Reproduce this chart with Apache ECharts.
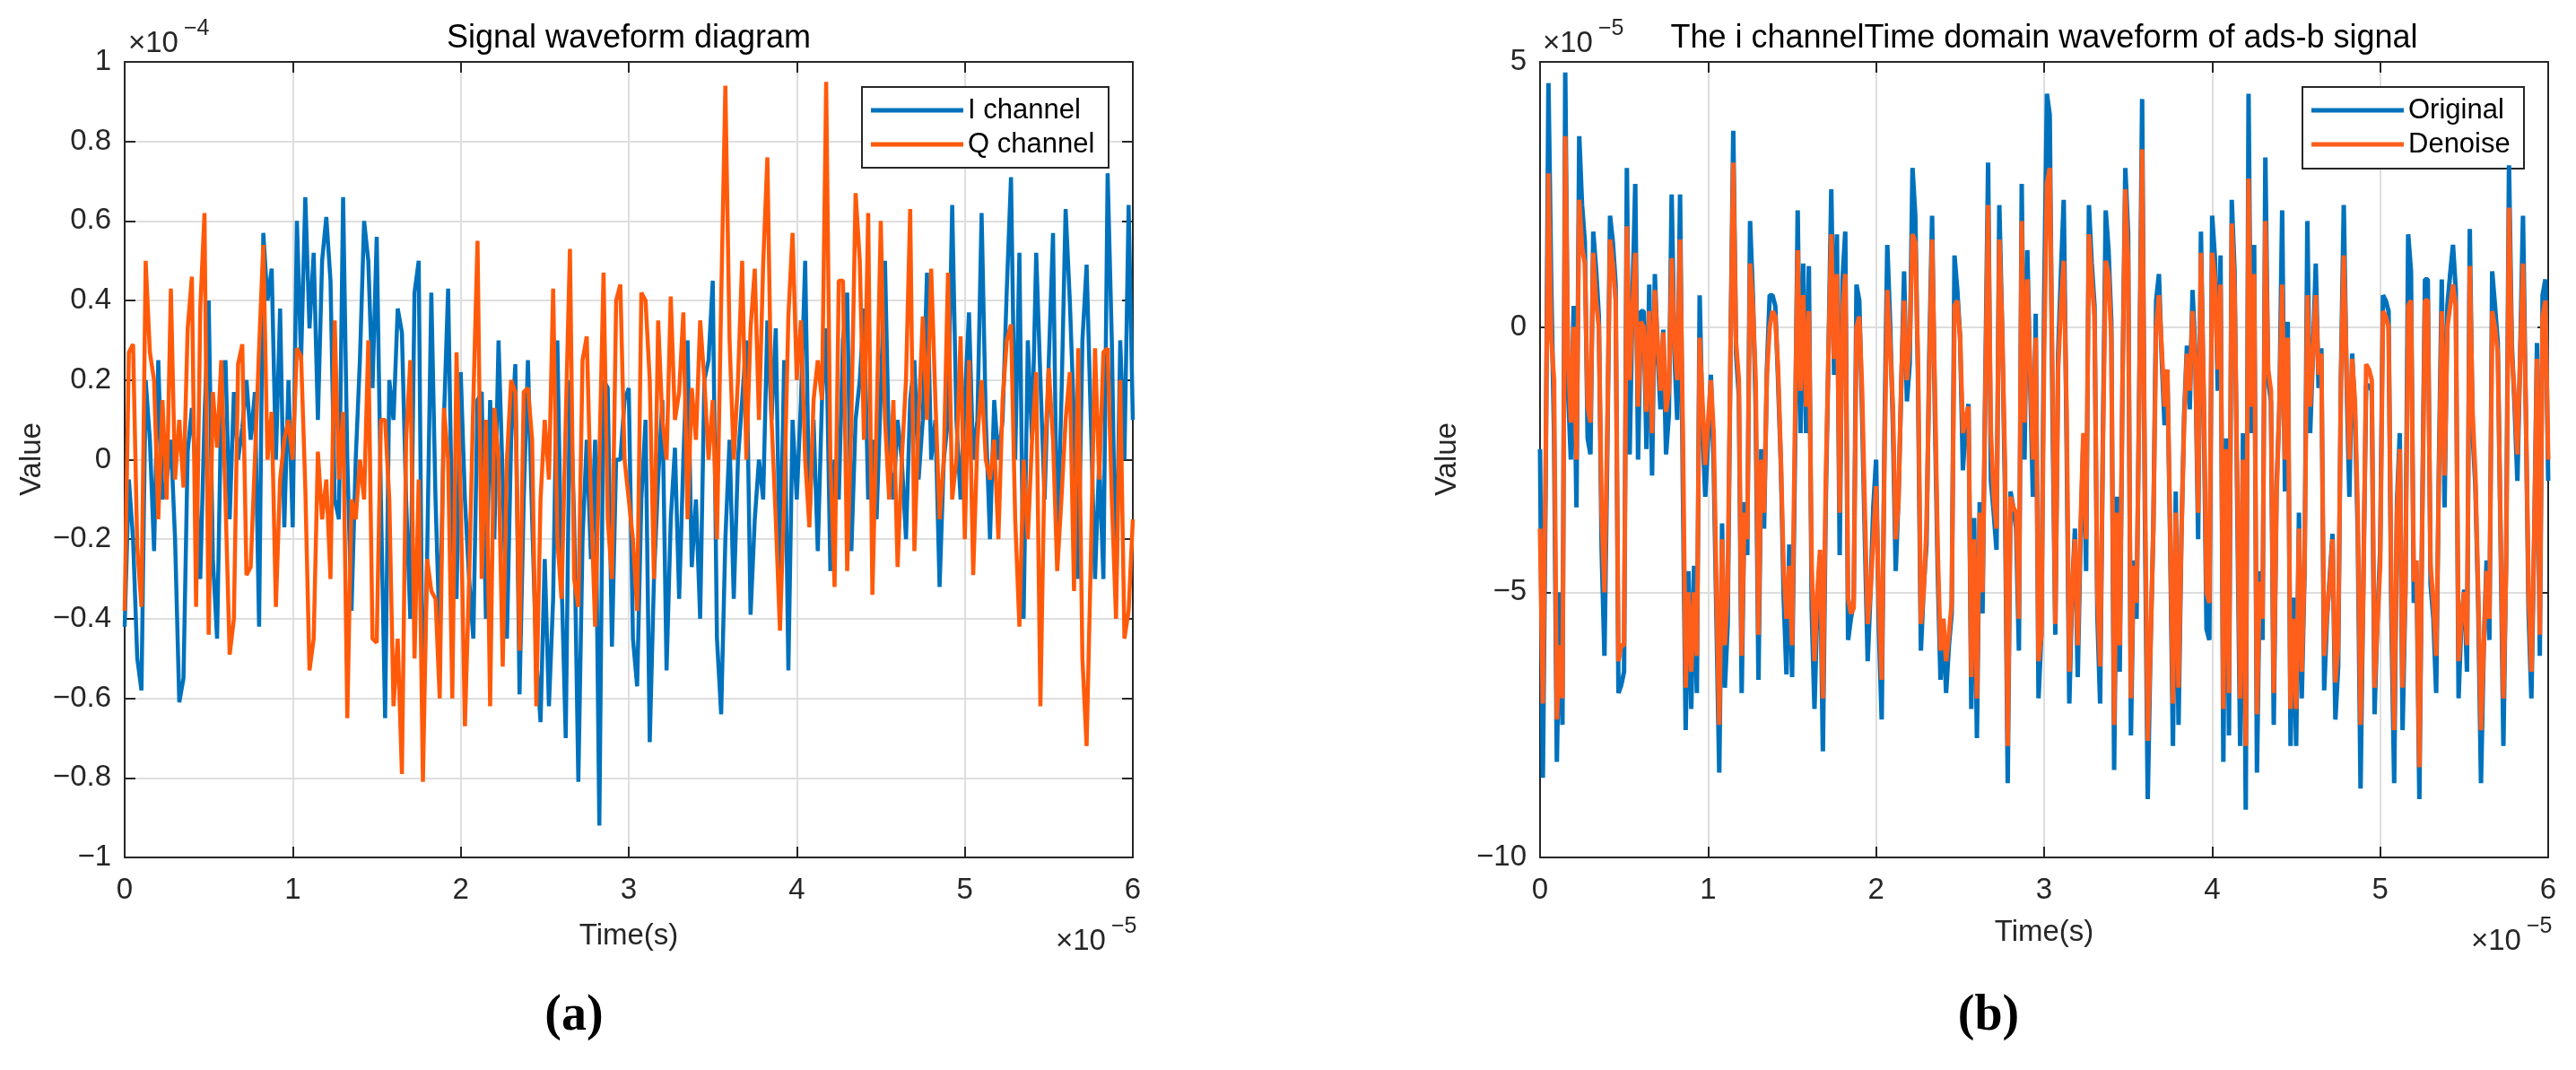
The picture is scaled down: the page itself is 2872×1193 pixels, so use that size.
<!DOCTYPE html>
<html>
<head>
<meta charset="utf-8">
<title>Signal waveform</title>
<script src="https://cdn.jsdelivr.net/npm/echarts/dist/echarts.min.js"></script>
<style>
html,body{margin:0;padding:0;background:#fff;}
#main{width:2872px;height:1193px;}
</style>
</head>
<body>
<div id="main"></div>
<script>
// time axis is in units of 1e-5 s, values are in units of the axis multiplier
var leftStep = 0.025;
var rightStep = 1 / 60;
var xTicks = { min: 0, max: 6, interval: 1 };
var leftYTicks = { min: -1, max: 1, interval: 0.2 };
var rightYTicks = { min: -10, max: 5, interval: 5 };

// (a) I channel, x1e-4
var iChannel = [
 -0.42,-0.05,-0.2,-0.5,-0.58,0.2,0.05,-0.23,0.25,-0.1,
 -0.05,0.05,-0.2,-0.61,-0.55,0.02,0.13,-0.05,-0.3,0.1,
 0.4,-0.25,-0.45,0.15,0.25,-0.15,0.17,0.0,0.08,0.2,
 0.05,0.17,-0.42,0.57,0.4,0.48,0.0,0.38,-0.17,0.2,
 -0.17,0.6,0.25,0.66,0.33,0.52,0.1,0.5,0.61,0.45,
 -0.1,-0.15,0.66,0.0,-0.38,0.0,0.25,0.6,0.5,0.18,
 0.56,-0.1,-0.65,0.2,0.1,0.38,0.32,-0.1,-0.4,0.42,
 0.5,-0.69,-0.25,0.42,-0.1,-0.45,0.1,0.43,-0.2,-0.35,
 0.22,-0.1,-0.3,-0.45,0.15,0.17,-0.4,0.15,-0.2,0.3,
 -0.05,-0.45,0.05,0.24,-0.59,-0.1,0.25,-0.15,-0.5,-0.66,
 -0.25,-0.62,-0.35,0.3,-0.3,-0.7,0.2,-0.15,-0.81,-0.2,
 0.05,-0.25,0.05,-0.92,0.2,0.18,-0.47,0.0,0.0,0.15,
 0.18,-0.45,-0.57,-0.1,0.1,-0.71,-0.3,-0.05,0.15,-0.53,
 -0.15,0.03,-0.35,0.0,0.3,-0.27,-0.1,-0.4,0.2,0.25,
 0.45,-0.45,-0.64,-0.2,0.05,-0.35,0.0,0.15,0.3,-0.39,
 -0.15,0.0,-0.1,0.35,0.1,0.33,-0.3,0.25,-0.53,0.1,
 -0.1,0.15,0.5,-0.15,0.1,-0.23,0.15,0.33,-0.28,0.0,
 -0.1,0.3,0.42,-0.23,0.1,0.2,0.38,-0.1,0.05,-0.15,
 0.17,0.5,0.0,-0.1,0.1,0.0,-0.2,0.15,0.25,-0.05,
 0.1,0.47,0.0,0.1,-0.32,0.0,0.1,0.64,0.1,-0.1,
 0.15,0.37,0.0,0.1,0.62,0.1,-0.2,0.15,0.0,0.1,
 0.43,0.71,0.0,0.52,-0.4,0.3,0.05,0.52,0.2,-0.1,
 0.25,0.57,-0.23,0.15,0.63,0.4,0.1,-0.3,0.3,0.49,
 0.1,-0.3,0.0,-0.3,0.72,0.3,-0.35,0.3,0.0,0.64,
 0.1
];

// (a) Q channel, x1e-4
var qChannel = [
 -0.38,0.27,0.29,-0.22,-0.37,0.5,0.27,0.2,-0.15,0.15,
 -0.1,0.43,-0.05,0.1,-0.07,0.33,0.46,-0.37,0.38,0.62,
 -0.44,0.17,0.03,0.25,-0.1,-0.49,-0.4,0.24,0.29,-0.29,
 -0.27,0.0,0.28,0.54,0.0,0.12,-0.37,-0.05,0.05,0.1,
 0.0,0.28,0.26,-0.07,-0.53,-0.45,0.02,-0.15,-0.05,-0.3,
 0.35,-0.05,0.12,-0.65,-0.1,-0.15,0.0,-0.1,0.3,-0.45,
 -0.46,0.1,0.1,-0.1,-0.62,-0.45,-0.79,0.05,0.25,-0.5,
 -0.05,-0.81,-0.25,-0.33,-0.35,-0.6,0.13,0.0,-0.6,0.27,
 -0.1,-0.67,-0.3,0.15,0.55,-0.3,0.1,-0.62,0.13,0.0,
 -0.52,0.0,0.2,0.17,-0.48,0.17,0.18,0.05,-0.62,-0.1,
 0.1,-0.05,0.43,-0.2,-0.35,0.1,0.53,-0.3,-0.37,0.25,
 0.31,-0.1,-0.42,0.0,0.47,-0.15,-0.3,0.4,0.44,0.0,
 -0.1,-0.2,-0.38,0.42,0.4,0.2,-0.3,0.35,0.1,0.0,
 0.41,0.1,0.17,0.37,-0.15,0.18,0.05,0.35,0.2,0.0,
 0.15,-0.2,0.4,0.94,0.3,0.0,0.2,0.5,0.0,0.33,
 0.48,0.1,0.49,0.76,0.1,-0.15,-0.43,-0.1,0.36,0.57,
 0.2,0.35,0.0,-0.17,0.15,0.25,0.15,0.95,0.0,-0.32,
 0.45,0.45,-0.28,0.1,0.67,0.5,0.05,0.62,-0.34,0.1,
 0.6,0.1,-0.1,0.15,-0.27,0.0,0.2,0.63,-0.23,0.1,
 0.36,0.1,0.48,0.15,-0.15,0.0,0.47,-0.1,0.0,0.31,
 -0.2,0.25,-0.29,0.05,0.2,0.0,-0.05,0.05,-0.2,0.15,
 0.3,0.34,-0.15,-0.42,0.0,-0.2,0.05,0.22,-0.62,0.0,
 0.23,0.05,-0.28,-0.1,0.1,0.22,-0.33,0.28,-0.5,-0.72,
 -0.25,0.28,-0.05,0.27,0.28,-0.1,-0.4,0.2,-0.45,-0.38,
 -0.15
];

// (b) original, x1e-5
var original = [
 -2.3,-8.5,-3.0,4.6,0.8,-2.0,-8.2,-5.0,-7.5,4.8,
 -1.2,-2.5,0.4,-3.4,3.6,2.3,1.6,-2.1,-2.4,1.8,
 1.1,0.2,-4.2,-6.2,-2.4,2.1,1.6,0.8,-6.9,-6.75,
 -6.5,3.0,-2.4,0.5,2.7,-2.5,0.3,0.3,-2.3,0.8,
 -2.8,1.0,-0.5,-1.55,-0.05,-2.4,-1.65,2.5,-0.5,-1.75,
 2.5,-3.0,-7.6,-4.6,-7.2,-4.5,-6.9,0.6,-1.9,-3.2,
 -2.1,-0.9,-2.6,-5.5,-8.4,-3.7,-6.8,-5.6,-0.5,3.7,
 -0.5,-1.3,-6.9,-3.3,-4.3,2.0,0.6,-1.5,-6.65,-2.3,
 -3.8,-0.8,0.6,0.6,0.4,-1.0,-2.6,-5.1,-6.55,-4.1,
 -6.6,-2.6,2.2,-2.0,1.2,-2.0,1.15,-5.3,-7.2,-5.2,
 -4.3,-8.0,-3.4,-0.5,2.6,-0.9,1.75,-4.3,0.9,1.8,
 -5.9,-5.5,-5.2,0.8,0.5,-1.65,-4.0,-6.3,-5.0,-3.4,
 -2.5,-5.7,-7.4,-2.0,1.55,0.1,-1.85,-4.6,-3.2,-1.1,
 1.05,-1.4,-0.7,3.0,2.1,-1.1,-6.1,-4.9,-4.1,-0.5,
 2.1,-1.65,-4.6,-6.65,-5.5,-6.9,-6.0,-5.4,1.35,0.7,
 -0.2,-2.7,-1.8,-1.45,-7.2,-3.6,-7.75,-3.3,-5.4,-1.0,
 3.1,-2.9,-3.5,-4.2,2.3,0.0,-3.0,-8.6,-3.1,-3.4,
 -3.8,-6.1,2.7,-2.5,1.45,-1.0,-3.2,0.25,-7.0,-5.8,
 0.5,4.4,4.0,-1.65,-5.8,-0.5,1.0,2.4,-2.0,-7.1,
 -5.0,-3.8,-6.6,-4.0,-2.1,-4.6,2.3,1.2,0.4,-5.4,
 -7.1,-2.0,2.2,1.45,0.1,-8.35,-3.2,-6.5,-1.0,3.0,
 1.75,-7.7,-4.4,-5.5,-1.0,4.3,-3.6,-8.9,-6.0,-3.8,
 0.5,1.0,-0.6,-1.85,-0.8,-4.0,-7.9,-3.1,-7.5,-4.0,
 -1.65,-0.35,-1.55,0.7,-0.5,-4.0,1.8,-1.5,-5.7,-5.9,
 2.1,1.3,-1.2,1.35,-8.2,-2.1,-7.7,2.4,1.05,-3.5,
 -7.9,-2.0,-9.1,4.4,-2.0,1.55,-8.4,-4.6,-5.9,3.2,
 -1.0,-1.4,-7.5,-3.0,-1.55,2.2,-3.1,0.1,-7.9,-5.1,
 -7.9,-3.5,-7.0,-4.6,2.0,-2.0,-0.5,1.2,-1.15,-0.4,
 -6.85,-5.5,-4.7,-3.9,-7.4,-6.4,-0.9,2.3,-1.0,-3.2,
 -0.5,-1.65,-3.9,-8.7,-4.7,-1.1,-1.1,-1.2,-7.3,-5.5,
 -4.2,0.6,0.5,0.3,-5.5,-8.6,-3.3,-2.0,-7.6,-5.0,
 1.75,1.05,-5.2,-4.6,-8.9,-3.6,0.9,0.9,-4.85,-5.5,
 -6.9,-2.5,0.9,-3.4,0.4,1.0,1.55,0.7,-7.0,-5.5,
 -4.95,-6.5,1.85,-2.0,-3.0,-5.2,-8.6,-6.0,-4.4,-5.9,
 1.05,0.4,-0.3,-4.0,-7.9,-4.2,3.05,-0.3,-1.5,-2.9,
 -0.5,2.1,-1.5,-5.4,-7.0,-4.0,-0.3,-6.2,0.6,0.9,
 -2.9
];

// (b) denoised, x1e-5
var denoise = [
 -3.8,-7.1,-2.6,2.9,-0.2,-1.0,-7.4,-6.0,-7.0,3.6,
 -0.5,-1.8,0.0,-2.5,2.4,1.5,1.2,-1.5,-1.8,1.4,
 0.5,0.0,-3.5,-5.0,-2.0,1.65,1.2,0.5,-6.3,-6.0,
 -6.0,1.9,-1.0,0.3,1.4,-1.5,0.1,0.0,-1.6,0.3,
 -2.0,0.7,-0.3,-1.2,-0.1,-1.6,-1.2,1.3,-0.3,-1.0,
 1.65,-2.0,-6.8,-5.0,-6.5,-5.0,-6.2,-0.2,-1.4,-2.6,
 -1.8,-1.0,-2.0,-5.0,-7.5,-4.0,-6.0,-5.0,-0.5,3.1,
 -0.3,-1.0,-6.2,-3.5,-4.0,1.2,0.4,-1.0,-5.8,-2.5,
 -3.5,-0.9,0.0,0.3,0.2,-0.8,-2.5,-4.6,-5.5,-4.5,
 -6.0,-2.0,1.45,-1.2,0.6,-1.5,0.3,-4.5,-6.3,-5.0,
 -4.2,-7.0,-3.0,-0.5,1.75,-0.6,1.0,-3.5,0.3,1.0,
 -5.1,-5.4,-5.3,0.0,0.2,-1.2,-3.5,-5.6,-5.0,-4.0,
 -3.0,-5.2,-6.65,-2.5,0.7,-0.3,-1.5,-4.0,-3.3,-1.0,
 0.5,-1.0,-0.3,1.75,1.6,-0.8,-5.6,-5.0,-3.8,-0.8,
 1.65,-1.2,-4.2,-6.1,-5.5,-6.3,-5.8,-5.2,0.4,0.5,
 -0.2,-2.0,-1.7,-1.5,-6.6,-4.0,-7.0,-3.5,-5.0,-1.3,
 2.3,-2.0,-3.2,-3.8,1.65,0.0,-2.5,-7.9,-3.2,-3.4,
 -3.5,-5.5,2.0,-1.8,0.9,-0.8,-2.5,-0.2,-6.3,-5.8,
 -0.5,2.7,3.0,-1.0,-5.6,-0.8,0.4,1.25,-1.5,-6.5,
 -5.0,-4.0,-6.0,-3.8,-2.0,-4.0,1.75,0.9,0.2,-5.0,
 -6.4,-2.2,1.25,1.0,-0.2,-7.5,-3.5,-6.0,-1.0,2.6,
 1.2,-7.0,-4.5,-5.2,-1.2,3.35,-3.0,-7.8,-6.0,-3.8,
 0.0,0.6,-0.4,-1.5,-0.8,-3.8,-7.1,-3.5,-6.8,-4.0,
 -1.8,-0.5,-1.2,0.3,-0.6,-3.5,1.4,-1.2,-5.0,-5.2,
 1.4,0.9,-0.8,0.8,-7.2,-2.3,-6.9,1.95,0.7,-3.0,
 -7.0,-2.5,-7.9,2.8,-1.5,1.0,-7.3,-4.8,-5.5,2.0,
 -0.8,-1.2,-6.9,-3.2,-1.5,0.8,-2.5,-0.2,-7.2,-5.5,
 -7.2,-3.8,-6.5,-4.5,0.6,-1.5,-0.5,0.6,-0.9,-0.5,
 -6.2,-5.4,-4.8,-4.0,-6.7,-6.0,-1.0,1.35,-0.8,-2.5,
 -0.6,-1.4,-3.5,-7.5,-5.0,-0.7,-0.8,-1.0,-6.8,-5.6,
 -4.5,0.3,0.2,0.0,-5.0,-7.6,-3.5,-2.3,-6.8,-5.0,
 0.4,0.5,-4.8,-4.4,-8.3,-3.8,0.5,0.5,-4.5,-5.2,
 -6.2,-2.8,0.3,-2.8,0.0,0.4,0.8,0.4,-6.3,-5.5,
 -5.0,-6.0,1.15,-1.6,-2.8,-5.0,-7.6,-6.0,-4.6,-5.5,
 0.3,0.0,-0.5,-3.8,-7.0,-4.5,2.25,-0.5,-1.3,-2.4,
 -0.6,1.2,-1.5,-5.0,-6.5,-4.0,-0.6,-5.8,0.2,0.5,
 -2.5
];

var FONT = 'Liberation Sans, Arial, Helvetica, sans-serif';
var TXT = '#262626';

function pairs(arr, step){
	return arr.map(function(v, i){ return [i * step, v]; });
}
function tickFmt(v){
	var r = Math.round(v * 100) / 100;
	if (Math.abs(r) < 1e-9) return '0';
	return (r < 0 ? '\u2212' : '') + String(Math.abs(r));
}

function xAxisFor(g, pos){
	var main = pos === 'bottom';
	return {
		gridIndex: g, type: 'value', position: pos,
		min: xTicks.min, max: xTicks.max, interval: xTicks.interval,
		axisLine: {show: true, onZero: false, lineStyle: {color: TXT, width: 2}},
		axisTick: {show: true, inside: true, length: 12, lineStyle: {color: TXT, width: 2}},
		axisLabel: {show: main, margin: 20, fontSize: 33, color: TXT, fontFamily: FONT, formatter: tickFmt},
		splitLine: {show: main, lineStyle: {color: '#dedede', width: 2}}
	};
}
function yAxisFor(g, pos, t){
	var main = pos === 'left';
	return {
		gridIndex: g, type: 'value', position: pos,
		min: t.min, max: t.max, interval: t.interval,
		axisLine: {show: true, onZero: false, lineStyle: {color: TXT, width: 2}},
		axisTick: {show: true, inside: true, length: 12, lineStyle: {color: TXT, width: 2}},
		axisLabel: {show: main, margin: 15, fontSize: 33, color: TXT, fontFamily: FONT, formatter: tickFmt},
		splitLine: {show: main, lineStyle: {color: '#dedede', width: 2}}
	};
}
function legendFor(names, left){
	return {
		data: names, left: left, top: 97, orient: 'vertical',
		padding: [8, 12, 8, 10], itemGap: 2,
		itemWidth: 103, itemHeight: 5, icon: 'rect',
		textStyle: {fontSize: 31, color: '#000', fontFamily: FONT, lineHeight: 36}
	};
}
function legendBox(x, y, w, h){
	return {type: 'rect', z: 3, shape: {x: x, y: y, width: w, height: h},
		style: {fill: '#fff', stroke: TXT, lineWidth: 2}};
}
function txt(x, y, s, size, extra){
	var o = {type: 'text', x: x, y: y, z: 100,
		style: {text: s, fontSize: size, fontFamily: FONT, fill: '#000', align: 'center', verticalAlign: 'middle'}};
	if (extra) for (var k in extra) o.style[k] = extra[k];
	return o;
}

var chart = echarts.init(document.getElementById('main'));
chart.setOption({
	animation: false,
	backgroundColor: '#fff',
	grid: [
		{left: 139, top: 69, width: 1124, height: 887},
		{left: 1717, top: 69, width: 1124, height: 887}
	],
	xAxis: [xAxisFor(0, 'bottom'), xAxisFor(0, 'top'), xAxisFor(1, 'bottom'), xAxisFor(1, 'top')],
	yAxis: [yAxisFor(0, 'left', leftYTicks), yAxisFor(0, 'right', leftYTicks),
		yAxisFor(1, 'left', rightYTicks), yAxisFor(1, 'right', rightYTicks)],
	legend: [legendFor(['I channel', 'Q channel'], 961), legendFor(['Original', 'Denoise'], 2567)],
	series: [
		{name: 'I channel', type: 'line', xAxisIndex: 0, yAxisIndex: 0, symbol: 'none',
			lineStyle: {width: 4.5, color: '#0072BD'}, itemStyle: {color: '#0072BD'}, data: pairs(iChannel, leftStep)},
		{name: 'Q channel', type: 'line', xAxisIndex: 0, yAxisIndex: 0, symbol: 'none',
			lineStyle: {width: 4.5, color: '#FF5A0A'}, itemStyle: {color: '#FF5A0A'}, data: pairs(qChannel, leftStep)},
		{name: 'Original', type: 'line', xAxisIndex: 2, yAxisIndex: 2, symbol: 'none',
			lineStyle: {width: 5, color: '#0072BD'}, itemStyle: {color: '#0072BD'}, data: pairs(original, rightStep)},
		{name: 'Denoise', type: 'line', xAxisIndex: 2, yAxisIndex: 2, symbol: 'none',
			lineStyle: {width: 5, color: '#FF5F1A'}, itemStyle: {color: '#FF5F1A'}, data: pairs(denoise, rightStep)}
	],
	graphic: [
		legendBox(961, 97, 275, 90),
		legendBox(2567, 97, 247, 91),
		txt(701, 43, 'Signal waveform diagram', 36),
		txt(2279, 43, 'The i channelTime domain waveform of ads-b signal', 36),
		// axis multipliers
		txt(143, 49, '\u00d710', 33, {align: 'left', fill: TXT}),
		txt(205, 32, '\u22124', 25, {align: 'left', fill: TXT}),
		txt(1720, 49, '\u00d710', 33, {align: 'left', fill: TXT}),
		txt(1782, 32, '\u22125', 25, {align: 'left', fill: TXT}),
		txt(1177, 1050, '\u00d710', 33, {align: 'left', fill: TXT}),
		txt(1239, 1033, '\u22125', 25, {align: 'left', fill: TXT}),
		txt(2755, 1050, '\u00d710', 33, {align: 'left', fill: TXT}),
		txt(2817, 1033, '\u22125', 25, {align: 'left', fill: TXT}),
		// axis names
		txt(701, 1044, 'Time(s)', 33, {fill: TXT}),
		txt(2279, 1040, 'Time(s)', 33, {fill: TXT}),
		{type: 'text', x: 36, y: 512, rotation: Math.PI / 2, z: 100,
			style: {text: 'Value', fontSize: 33, fontFamily: FONT, fill: TXT, align: 'center', verticalAlign: 'middle'}},
		{type: 'text', x: 1614, y: 512, rotation: Math.PI / 2, z: 100,
			style: {text: 'Value', fontSize: 33, fontFamily: FONT, fill: TXT, align: 'center', verticalAlign: 'middle'}},
		// panel letters
		txt(640, 1134, '(a)', 56, {fontFamily: 'Liberation Serif, Times New Roman, serif', fontWeight: 'bold'}),
		txt(2217, 1134, '(b)', 56, {fontFamily: 'Liberation Serif, Times New Roman, serif', fontWeight: 'bold'})
	]
});
</script>
</body>
</html>
